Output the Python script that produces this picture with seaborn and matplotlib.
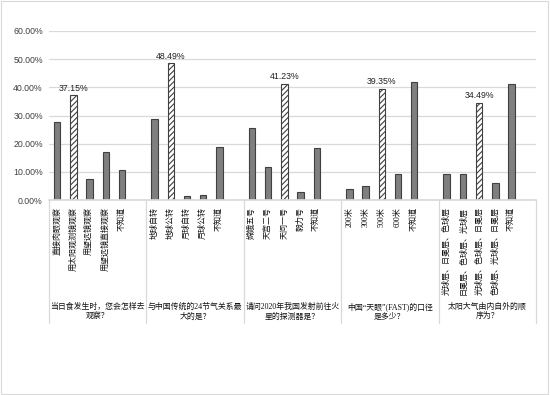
import matplotlib
matplotlib.use("Agg")
import matplotlib.pyplot as plt
import matplotlib.transforms as mtransforms
import numpy as np
import pandas as pd
import seaborn as sns
from matplotlib.patches import Rectangle
from matplotlib.ticker import PercentFormatter

# Survey questions (one group of bars each)
questions = [
    "当日食发生时，您会怎样去\n观察？",
    "与中国传统的24节气关系最\n大的是？",
    "请问2020年我国发射前往火\n星的探测器是？",
    "中国“天眼”(FAST)的口径\n是多少？",
    "太阳大气由内自外的顺\n序为？",
]
options = [
    ["直接肉眼观察", "用太阳观测镜观察", "用望远镜观察", "用望远镜直接观察", "不知道"],
    ["地球自转", "地球公转", "月球自转", "月球公转", "不知道"],
    ["嫦娥五号", "天宫二号", "天问一号", "毅力号", "不知道"],
    ["200米", "300米", "500米", "600米", "不知道"],
    ["光球层、日冕层、色球层", "日冕层、色球层、光球层", "光球层、色球层、日冕层",
     "色球层、光球层、日冕层", "不知道"],
]
# percentage of respondents per option
values = [
    [27.6, 37.15, 7.3, 17.0, 10.6],
    [28.7, 48.49, 1.4, 1.8, 18.8],
    [25.6, 11.7, 41.23, 2.7, 18.5],
    [4.0, 5.0, 39.35, 9.2, 41.9],
    [9.2, 9.2, 34.49, 5.9, 41.1],
]
correct = [1, 1, 2, 2, 2]

sns.set_theme(style="white")
plt.rcParams["font.family"] = ["Liberation Sans", "Noto Sans CJK SC"]
plt.rcParams["hatch.linewidth"] = 0.8
plt.rcParams["hatch.color"] = "#404040"

rows = []
slot = 0
for opts, vals, ci in zip(options, values, correct):
    for i, (o, v) in enumerate(zip(opts, vals)):
        rows.append({"slot": slot, "label": o, "pct": v / 100,
                     "kind": "correct" if i == ci else "other"})
        slot += 1
    # empty slot between groups
    rows.append({"slot": slot, "label": "", "pct": np.nan, "kind": "other"})
    slot += 1
df = pd.DataFrame(rows)
n_slots = len(df)
group_size = len(options[0]) + 1

fig = plt.figure(figsize=(5.5, 3.95), dpi=100)
ax = fig.add_axes([49 / 550, 1 - 200 / 395, 487 / 550, 169 / 395])

sns.barplot(
    data=df, x="slot", y="pct", hue="kind",
    order=list(range(n_slots)), hue_order=["other", "correct"],
    palette={"other": "#7f7f7f", "correct": "white"},
    dodge=False, width=0.4, errorbar=None, legend=False,
    edgecolor="#404040", linewidth=0.8, ax=ax,
)
for bar in ax.containers[1]:
    bar.set_hatch("//////")
ax.bar_label(ax.containers[1], fmt=lambda v: f"{v:.2%}", padding=2,
             fontsize=6.3, color="#222222")

ax.set_xlim(-0.5, n_slots - 0.5)
ax.set_ylim(0, 0.6)
ax.set_yticks(np.arange(0, 0.61, 0.1))
ax.yaxis.set_major_formatter(PercentFormatter(xmax=1, decimals=2))
ax.grid(axis="y", color="#d9d9d9", linewidth=0.9)
ax.set_axisbelow(True)
for side in ["left", "right", "top"]:
    ax.spines[side].set_visible(False)
ax.spines["bottom"].set_color("#d9d9d9")
ax.set_xlabel("")
ax.set_ylabel("")
ax.tick_params(axis="y", length=0, pad=4.5, labelsize=6.3, labelcolor="#404040")
ax.tick_params(axis="x", length=0, pad=5)
ax.set_xticks(range(n_slots))
ax.set_xticklabels(df["label"], rotation=90, fontsize=5.8,
                   family=["Liberation Serif", "Noto Sans CJK SC"], color="#111111")

# group separators and question texts below the axis
trans = mtransforms.blended_transform_factory(ax.transData, ax.transAxes)
for g in range(len(questions) + 1):
    x = g * group_size - 0.5
    ax.plot([x, x], [0, -0.725], transform=trans, color="#d9d9d9",
            linewidth=0.9, clip_on=False)
for g, q in enumerate(questions):
    ax.text(g * group_size + (group_size - 1) / 2, -0.66, q, transform=trans,
            ha="center", va="center", multialignment="center", fontsize=5.7,
            linespacing=1.25, family=["Liberation Serif", "Noto Sans CJK SC"],
            color="#111111")

fig.patches.append(Rectangle((0.002, 0.003), 0.995, 0.994, transform=fig.transFigure,
                             fill=False, edgecolor="#d9d9d9", linewidth=0.8))

fig.savefig("out.png", dpi=100)
